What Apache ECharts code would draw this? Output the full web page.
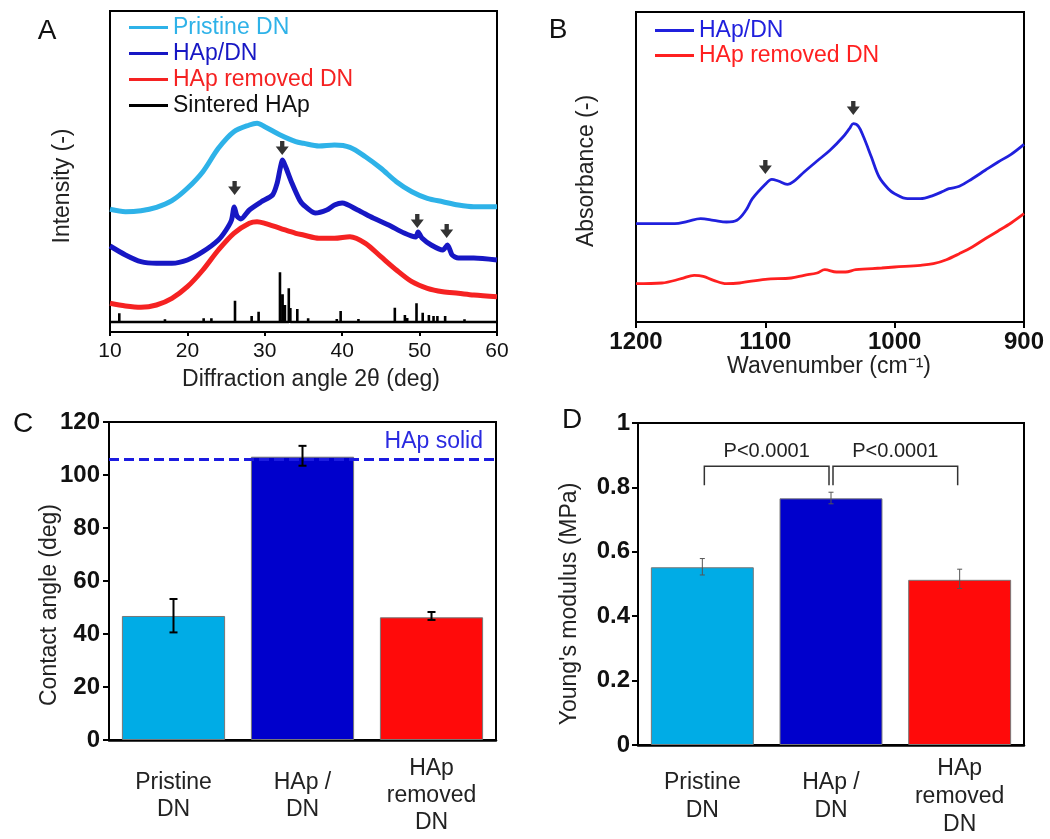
<!DOCTYPE html>
<html><head><meta charset="utf-8">
<script src="https://cdn.jsdelivr.net/npm/echarts@6/dist/echarts.min.js"></script>
<style>html,body{margin:0;padding:0;background:#fff}#c{width:1050px;height:839px}</style>
</head><body><div id="c"></div>
<script>
// ---------- Panel A : XRD (2theta, relative intensity, offset traces) ----------
const xrdPristine = [[10,122.7],[12,120.3],[14,121.3],[16,124.7],[18,131.3],[20,143.7],[22,160.3],[24,183.7],[26,200.3],[28,207],[29,208.7],[30,205.3],[32,197],[34,190.3],[35,188.7],[37,186],[39,187],[41,184.7],[43,175.3],[45,163.7],[47,150.3],[49,140.3],[51,133.7],[53,130.3],[55,127],[57,125.3],[60,125.3]];
const xrdHApDN = [[10,86],[12,77],[14,70.3],[16,68.7],[18,68.7],[20,72],[22,80.3],[24,92],[25,102],[25.7,112],[26.05,125],[26.4,116],[26.9,113],[28,122],[29.5,130],[31,137],[31.6,149],[32,164],[32.3,172],[32.7,165],[33.5,149],[34.5,132],[35,127],[36.5,119],[38,122],[39,127],[40,129],[42,122],[44,114],[46,107],[48,99],[49.5,95],[49.8,100],[50.3,94],[51.5,87],[53,82],[53.6,87],[54.2,77],[55,74],[57,74],[60,72]];
const xrdRemoved = [[10,28.7],[12,26],[14,24.7],[16,27],[18,33.7],[20,45.3],[22,62],[24,82],[26,98.7],[28,108.7],[29,110.3],[30,108.7],[32,103.7],[34,98.7],[35,97],[37,93.7],[39,93.7],[41,95.3],[43,88.7],[45,75.3],[47,62],[49,50.3],[51,43.7],[53,40.3],[55,38.7],[57,37],[60,35.3]];
const sinteredBase = 10;
const sinteredPeaks = [[11.2,18.7],[17.1,12.7],[19.2,11.5],[22.1,13.7],[23.1,13.7],[26.15,31.3],[28.3,16],[29.2,20.3],[31.96,59.7],[32.3,37.7],[32.6,27],[33.1,43.7],[33.3,24],[34.2,23],[35.6,13.7],[39.3,13],[39.8,21],[42.1,13],[44,12],[45.2,12],[46.8,24.3],[48.1,17],[48.4,14],[49.6,28.7],[50.4,19.3],[51.2,17],[51.8,16],[52.3,16],[53.3,16],[55.8,12.7],[57.3,12],[58.6,12]];
const xrdArrows = [[26.1,137],[32.25,177],[49.7,104],[53.5,94]];
const xrdTicks = [10,20,30,40,50,60];

// ---------- Panel B : FTIR (wavenumber, absorbance, offset traces) ----------
const ftirHApDN = [[1200,98.3],[1170,98.3],[1160,100.7],[1150,103.3],[1140,101.7],[1130,100],[1122,101.7],[1115,111.7],[1110,123.3],[1100,137.7],[1095,142.7],[1090,141],[1083,137.7],[1077,141.7],[1070,150],[1060,161],[1050,171.7],[1040,185],[1035,193.3],[1032,198.3],[1028,195.7],[1024,185],[1018,165],[1012,145],[1005,133.3],[1000,128.3],[990,123.3],[980,123.3],[970,126.7],[962,131],[958,133.3],[950,135.7],[940,143.3],[930,151.7],[920,160],[910,167.7],[900,177.7]];
const ftirRemoved = [[1200,38.3],[1180,39],[1165,43.3],[1155,46.7],[1148,45.7],[1140,41.7],[1130,38.3],[1120,39],[1100,42.7],[1080,44],[1070,46.7],[1060,49],[1054,52.3],[1045,50],[1038,50],[1030,52.3],[1010,54],[1000,55],[980,56.7],[970,58.3],[960,62.3],[950,68.3],[940,75],[930,83.3],[920,91],[910,99],[900,108.3]];
const ftirArrows = [[1100,148],[1032,207]];

// ---------- Panel C : contact angle ----------
const samples = ['Pristine\nDN', 'HAp /\nDN', 'HAp\nremoved\nDN'];
const contactAngle = [46.8, 106.9, 46.3];
const contactLow = [40.6, 103.5, 45.3];
const contactHigh = [53.2, 111.0, 48.3];
const hapSolidAngle = 105.9;

// ---------- Panel D : Young's modulus ----------
const modulus = [0.552, 0.766, 0.513];
const modulusLow = [0.528, 0.749, 0.486];
const modulusHigh = [0.579, 0.785, 0.546];
const pBrackets = [[0, 1, 0.866, 0.807, 'P<0.0001'], [1, 2, 0.866, 0.807, 'P<0.0001']];
const pLabelY = 0.912;

const barColors = ['#00ace6', '#0000cc', '#ff0a0a'];
const FONT = "'Liberation Sans', Arial, sans-serif";

const stickData = [[10, sinteredBase]];
sinteredPeaks.forEach(p => { stickData.push([p[0], sinteredBase], [p[0], p[1]], [p[0], sinteredBase]); });
stickData.push([60, sinteredBase]);

const arrowPath = 'path://M4,0 L8,0 L8,5 L12,5 L6,13 L0,5 L4,5 Z';

function errRender(capW, color, lw) {
  return function (params, api) {
    const i = api.value(0);
    const pl = api.coord([i, api.value(1)]);
    const ph = api.coord([i, api.value(2)]);
    const x = pl[0];
    const st = { stroke: color, lineWidth: lw };
    return { type: 'group', children: [
      { type: 'line', shape: { x1: x, y1: pl[1], x2: x, y2: ph[1] }, style: st },
      { type: 'line', shape: { x1: x - capW / 2, y1: pl[1], x2: x + capW / 2, y2: pl[1] }, style: st },
      { type: 'line', shape: { x1: x - capW / 2, y1: ph[1], x2: x + capW / 2, y2: ph[1] }, style: st }
    ] };
  };
}

function bracketRender(params, api) {
  const a = api.value(0), b = api.value(1), top = api.value(2), leg = api.value(3);
  const p1 = api.coord([a, top]), p2 = api.coord([b, top]);
  const yl = api.coord([a, leg])[1];
  const yt = api.coord([a, pLabelY])[1];
  const x1 = p1[0] + 2, x2 = p2[0] - 2;
  const st = { stroke: '#333', lineWidth: 1.5, fill: null };
  return { type: 'group', children: [
    { type: 'polyline', shape: { points: [[x1, yl], [x1, p1[1]], [x2, p1[1]], [x2, yl]] }, style: st },
    { type: 'text', x: (x1 + x2) / 2, y: yt, style: { text: pBrackets[params.dataIndex][4], fontSize: 20, fontFamily: FONT, fill: '#222', align: 'center', verticalAlign: 'middle' } }
  ] };
}

const axisLineStyle = { lineStyle: { color: '#000', width: 2 } };
const tickStyle = (len) => ({ show: true, inside: false, length: len, lineStyle: { color: '#000', width: 2 } });

const chart = echarts.init(document.getElementById('c'), null, { renderer: 'canvas' });
const option = {
  animation: false,
  backgroundColor: '#fff',
  textStyle: { fontFamily: FONT },
  grid: [
    { left: 110, top: 11, width: 387, height: 321, show: true, borderColor: '#000', borderWidth: 2 },
    { left: 636, top: 12, width: 388, height: 310, show: true, borderColor: '#000', borderWidth: 2 },
    { left: 109, top: 422, width: 387, height: 318, show: true, borderColor: '#000', borderWidth: 2 },
    { left: 638, top: 423, width: 386, height: 325, show: true, borderColor: '#000', borderWidth: 2 }
  ],
  xAxis: [
    { gridIndex: 0, type: 'value', min: 10, max: 60, interval: 10, axisLine: axisLineStyle, axisTick: tickStyle(4), splitLine: { show: false },
      axisLabel: { fontSize: 21, color: '#111', margin: 9, fontFamily: FONT } },
    { gridIndex: 1, type: 'value', min: 900, max: 1200, interval: 100, inverse: true, axisLine: axisLineStyle, axisTick: tickStyle(6), splitLine: { show: false },
      axisLabel: { fontSize: 24, fontWeight: 'bold', color: '#111', margin: 8, fontFamily: FONT, formatter: v => String(v) } },
    { gridIndex: 2, type: 'category', data: samples, axisLine: { lineStyle: { color: '#000', width: 2.5 } }, axisTick: { show: false },
      axisLabel: { fontSize: 23, lineHeight: 27, color: '#222', margin: 56, verticalAlign: 'middle', fontFamily: FONT } },
    { gridIndex: 3, type: 'category', data: samples, axisLine: { lineStyle: { color: '#000', width: 2.5 } }, axisTick: { show: false },
      axisLabel: { fontSize: 23, lineHeight: 28, color: '#222', margin: 52, verticalAlign: 'middle', fontFamily: FONT } }
  ],
  yAxis: [
    { gridIndex: 0, type: 'value', min: 0, max: 321, axisLine: axisLineStyle, axisTick: { show: false }, axisLabel: { show: false }, splitLine: { show: false } },
    { gridIndex: 1, type: 'value', min: 0, max: 310, axisLine: axisLineStyle, axisTick: { show: false }, axisLabel: { show: false }, splitLine: { show: false } },
    { gridIndex: 2, type: 'value', min: 0, max: 120, interval: 20, axisLine: axisLineStyle, axisTick: tickStyle(6), splitLine: { show: false },
      axisLabel: { fontSize: 24, fontWeight: 'bold', color: '#111', margin: 9, fontFamily: FONT } },
    { gridIndex: 3, type: 'value', min: 0, max: 1, interval: 0.2, axisLine: axisLineStyle, axisTick: tickStyle(6), splitLine: { show: false },
      axisLabel: { fontSize: 24, fontWeight: 'bold', color: '#111', margin: 8, fontFamily: FONT } }
  ],
  legend: [
    { orient: 'vertical', left: 124, top: 11, itemWidth: 39, itemHeight: 3, itemGap: 3, icon: 'rect', selectedMode: false,
      textStyle: { fontSize: 23, lineHeight: 23, fontFamily: FONT },
      data: [
        { name: 'Pristine DN', itemStyle: { color: '#2eb2e8' }, textStyle: { color: '#2eb2e8' } },
        { name: 'HAp/DN', itemStyle: { color: '#1717c4' }, textStyle: { color: '#1717c4' } },
        { name: 'HAp removed DN', itemStyle: { color: '#f52222' }, textStyle: { color: '#f52222' } },
        { name: 'Sintered HAp', itemStyle: { color: '#000' }, textStyle: { color: '#111' } }
      ] },
    { orient: 'vertical', left: 650, top: 14, itemWidth: 39, itemHeight: 3, itemGap: 2, icon: 'rect', selectedMode: false,
      textStyle: { fontSize: 23, lineHeight: 23, fontFamily: FONT },
      data: [
        { name: 'HAp/DN', itemStyle: { color: '#2020dd' }, textStyle: { color: '#2020dd' } },
        { name: 'HAp removed DN', itemStyle: { color: '#ff2020' }, textStyle: { color: '#ff2020' } }
      ] }
  ],
  series: [
    { name: 'Sintered HAp', type: 'line', xAxisIndex: 0, yAxisIndex: 0, data: stickData, showSymbol: false, lineStyle: { color: '#000', width: 2.6 }, itemStyle: { color: '#000' }, z: 3 },
    { name: 'HAp removed DN', type: 'line', xAxisIndex: 0, yAxisIndex: 0, data: xrdRemoved, showSymbol: false, smooth: 0.3, lineStyle: { color: '#f52222', width: 5 }, itemStyle: { color: '#f52222' }, z: 3 },
    { name: 'HAp/DN', type: 'line', xAxisIndex: 0, yAxisIndex: 0, data: xrdHApDN, showSymbol: false, smooth: 0.25, lineStyle: { color: '#1717c4', width: 5 }, itemStyle: { color: '#1717c4' }, z: 3 },
    { name: 'Pristine DN', type: 'line', xAxisIndex: 0, yAxisIndex: 0, data: xrdPristine, showSymbol: false, smooth: 0.3, lineStyle: { color: '#2eb2e8', width: 5 }, itemStyle: { color: '#2eb2e8' }, z: 3 },
    { name: 'xrd peaks', type: 'scatter', xAxisIndex: 0, yAxisIndex: 0, data: xrdArrows, symbol: arrowPath, symbolSize: [13, 14], symbolOffset: [0, '-50%'], itemStyle: { color: '#000' }, z: 5, silent: true },

    { name: 'HAp/DN', type: 'line', xAxisIndex: 1, yAxisIndex: 1, data: ftirHApDN, showSymbol: false, smooth: 0.35, lineStyle: { color: '#2020dd', width: 2.8 }, itemStyle: { color: '#2020dd' } },
    { name: 'HAp removed DN', type: 'line', xAxisIndex: 1, yAxisIndex: 1, data: ftirRemoved, showSymbol: false, smooth: 0.35, lineStyle: { color: '#ff2020', width: 2.8 }, itemStyle: { color: '#ff2020' } },
    { name: 'ftir peaks', type: 'scatter', xAxisIndex: 1, yAxisIndex: 1, data: ftirArrows, symbol: arrowPath, symbolSize: [13, 14], symbolOffset: [0, '-50%'], itemStyle: { color: '#000' }, z: 5, silent: true },

    { name: 'Contact angle', type: 'bar', xAxisIndex: 2, yAxisIndex: 2, barWidth: '80%',
      data: contactAngle.map((v, i) => ({ value: v, itemStyle: { color: barColors[i] } })),
      itemStyle: { borderColor: '#777', borderWidth: 1 },
      markLine: { symbol: 'none', silent: true, data: [{ yAxis: hapSolidAngle }],
        lineStyle: { type: [10, 5], width: 3, color: '#1c1ce0' },
        label: { show: true, formatter: 'HAp solid', position: 'insideEndTop', distance: [13, 6], fontSize: 23, color: '#2a2ae0', fontFamily: FONT } } },
    { name: 'Contact angle err', type: 'custom', xAxisIndex: 2, yAxisIndex: 2, renderItem: errRender(8, '#000', 2),
      data: contactAngle.map((v, i) => [i, contactLow[i], contactHigh[i]]), encode: { x: 0, y: [1, 2] }, z: 4, silent: true },

    { name: "Young's modulus", type: 'bar', xAxisIndex: 3, yAxisIndex: 3, barWidth: '80%',
      data: modulus.map((v, i) => ({ value: v, itemStyle: { color: barColors[i] } })),
      itemStyle: { borderColor: '#777', borderWidth: 1 } },
    { name: 'Modulus err', type: 'custom', xAxisIndex: 3, yAxisIndex: 3, renderItem: errRender(5, '#555', 1),
      data: modulus.map((v, i) => [i, modulusLow[i], modulusHigh[i]]), encode: { x: 0, y: [1, 2] }, z: 4, silent: true },
    { name: 'P brackets', type: 'custom', xAxisIndex: 3, yAxisIndex: 3, renderItem: bracketRender,
      data: pBrackets.map(b => [b[0], b[1], b[2], b[3]]), encode: { x: [0, 1], y: [2, 3] }, z: 4, silent: true }
  ],
  graphic: [
    { type: 'text', x: 47, y: 31, style: { text: 'A', fontSize: 28, fontFamily: FONT, fill: '#111', align: 'center', verticalAlign: 'middle' } },
    { type: 'text', x: 558, y: 30, style: { text: 'B', fontSize: 28, fontFamily: FONT, fill: '#111', align: 'center', verticalAlign: 'middle' } },
    { type: 'text', x: 23, y: 424, style: { text: 'C', fontSize: 28, fontFamily: FONT, fill: '#111', align: 'center', verticalAlign: 'middle' } },
    { type: 'text', x: 572, y: 420, style: { text: 'D', fontSize: 28, fontFamily: FONT, fill: '#111', align: 'center', verticalAlign: 'middle' } },
    { type: 'text', x: 311, y: 380, style: { text: 'Diffraction angle 2θ (deg)', fontSize: 23, fontFamily: FONT, fill: '#222', align: 'center', verticalAlign: 'middle' } },
    { type: 'text', x: 63, y: 186, rotation: Math.PI / 2, style: { text: 'Intensity (-)', fontSize: 23, fontFamily: FONT, fill: '#222', align: 'center', verticalAlign: 'middle' } },
    { type: 'text', x: 829, y: 367, style: { text: 'Wavenumber (cm⁻¹)', fontSize: 23, fontFamily: FONT, fill: '#222', align: 'center', verticalAlign: 'middle' } },
    { type: 'text', x: 587, y: 171, rotation: Math.PI / 2, style: { text: 'Absorbance (-)', fontSize: 23, fontFamily: FONT, fill: '#222', align: 'center', verticalAlign: 'middle' } },
    { type: 'text', x: 50, y: 605, rotation: Math.PI / 2, style: { text: 'Contact angle (deg)', fontSize: 23, fontFamily: FONT, fill: '#222', align: 'center', verticalAlign: 'middle' } },
    { type: 'text', x: 570, y: 604, rotation: Math.PI / 2, style: { text: "Young's modulus (MPa)", fontSize: 23, fontFamily: FONT, fill: '#222', align: 'center', verticalAlign: 'middle' } }
  ]
};
chart.setOption(option);
</script></body></html>
